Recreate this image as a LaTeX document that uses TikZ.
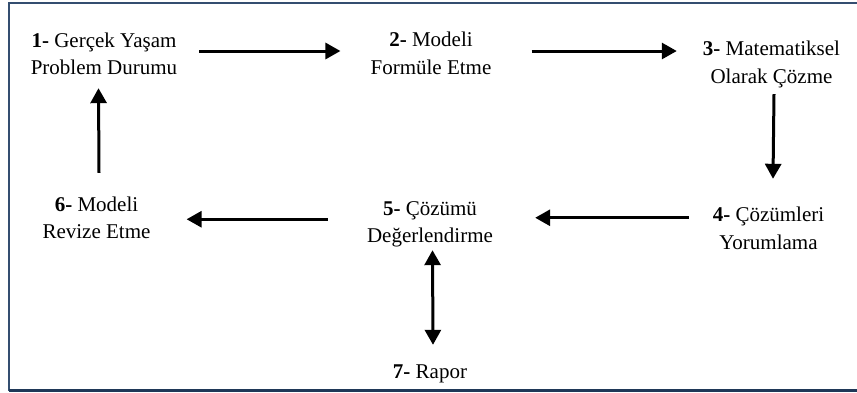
\documentclass[tikz,border=0pt]{standalone}
\usepackage{fontspec}
\setmainfont{Liberation Serif}
\usetikzlibrary{arrows.meta}
\definecolor{framecol}{RGB}{52,78,112}
\definecolor{framedark}{RGB}{31,56,88}
\begin{document}
\begin{tikzpicture}[x=1pt,y=-1pt,
  stage/.style={align=center, inner sep=0pt, font=\fontsize{21}{27.5}\selectfont},
  flow/.style={line width=3pt, -{Triangle[length=15pt,width=16pt]}},
  twoway/.style={line width=3pt, {Triangle[length=15pt,width=16pt]}-{Triangle[length=15pt,width=16pt]}}]
  % page area
  \clip (0,0) rectangle (857,392);
  % frame
  \draw[framecol, line width=2.4pt] (9,3) rectangle (880,390);
  \draw[framedark, line width=3pt] (9,390.5) -- (880,390.5);

  % stages
  \node[stage] (n1) at (104,55.25) {\strut\textbf{1-} Gerçek Yaşam\\Problem Durumu\strut};
  \node[stage] (n2) at (431,55) {\strut\textbf{2-} Modeli\\Formüle Etme\strut};
  \node[stage] (n3) at (771.5,63.75) {\strut\textbf{3-} Matematiksel\\Olarak Çözme\strut};
  \node[stage] (n4) at (768.5,229.75) {\strut\textbf{4-} Çözümleri\\Yorumlama\strut};
  \node[stage] (n5) at (430,223.25) {\strut\textbf{5-} Çözümü\\Değerlendirme\strut};
  \node[stage] (n6) at (96.5,219.25) {\strut\textbf{6-} Modeli\\Revize Etme\strut};
  \node[stage] (n7) at (430,372.5) {\strut\textbf{7-} Rapor};

  % connectors
  \draw[flow] ([xshift=22pt,yshift=4.25pt]n1.east) -- ([xshift=-30pt,yshift=4pt]n2.west);
  \draw[flow] ([xshift=40pt,yshift=4pt]n2.east) -- ([xshift=-26pt,yshift=12.75pt]n3.west);
  \draw[flow] ([xshift=2.5pt,yshift=-2.75pt]n3.south) -- ([xshift=4.5pt,yshift=23.25pt]n4.north);
  \draw[flow] ([xshift=-24pt,yshift=12pt]n4.west) -- ([xshift=42pt,yshift=5.5pt]n5.east);
  \draw[flow] ([xshift=-39pt,yshift=4pt]n5.west) -- ([xshift=36pt,yshift=0pt]n6.east);
  \draw[flow] ([xshift=2.5pt,yshift=18.75pt]n6.north) -- ([xshift=-5.5pt,yshift=-5.25pt]n1.south);
  \draw[twoway] ([xshift=2.5pt,yshift=0.75pt]n5.south) -- ([xshift=3pt,yshift=13.75pt]n7.north);
\end{tikzpicture}
\end{document}
